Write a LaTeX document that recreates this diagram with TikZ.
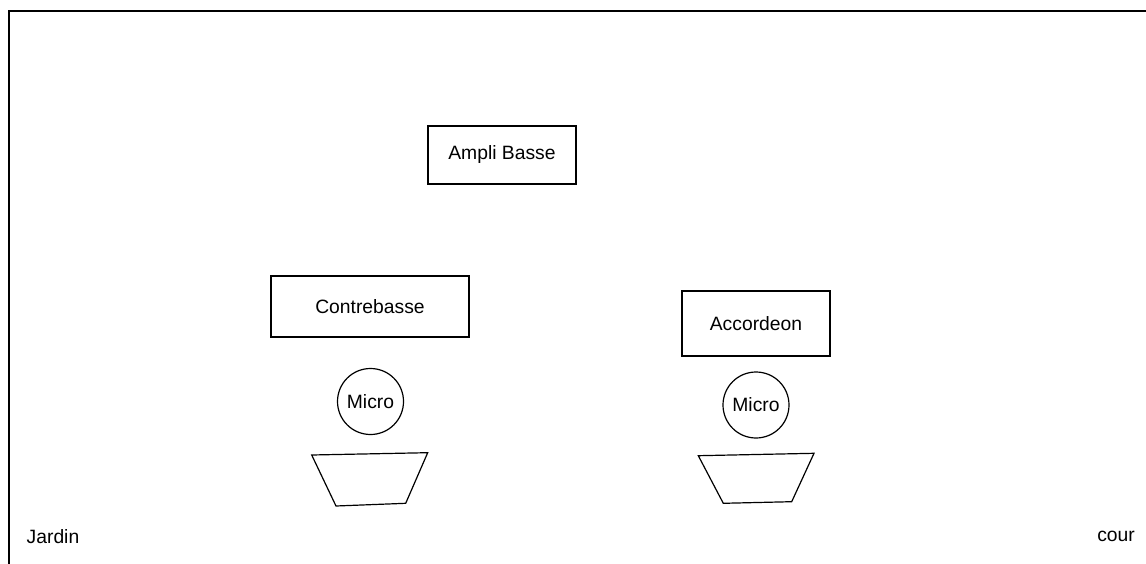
\documentclass[tikz,border=0pt]{standalone}
\usepackage{fontspec}
\setmainfont{Liberation Sans}
\usepackage{tikz}
\usetikzlibrary{positioning}

\begin{document}
\begin{tikzpicture}[x=1pt,y=-1pt]
\tikzstyle{every node}+=[inner sep=0pt,font=\fontsize{19.3}{21}\selectfont]
\tikzstyle{instr}=[draw=black,line width=1.2pt,rectangle]
\tikzstyle{micro}=[draw=black,line width=1.2pt,circle,minimum size=66pt]
\useasboundingbox (0,0) rectangle (1146,564);
% scene frame
\draw [black,line width=1.6pt] (9,564) -- (9,11) -- (1146,11);
% instruments
\node [instr,minimum width=148pt,minimum height=58pt] (ampli) at (502,155) {Ampli Basse};
\node [instr,minimum width=198pt,minimum height=61pt] (contrebasse) at (370,306.5) {Contrebasse};
\node [instr,minimum width=148pt,minimum height=65pt] (accordeon) at (756,323.5) {Accordeon};
% micros
\node [micro] (microA) at (370.5,401.5) {Micro};
\node [micro] (microB) at (756,405) {Micro};
% retours
\draw [black,line width=1.2pt] (311.7,455) -- (427.7,452.7) -- (405.7,503.3) -- (336,506) -- cycle;
\draw [black,line width=1.2pt] (698.3,455.7) -- (814,453.3) -- (791.7,501.7) -- (723.3,503.3) -- cycle;
% cotes
\node [anchor=west] (jardin) at (26.5,536.5) {Jardin};
\node [anchor=east] (cour) at (1135,536.5) {cour};
\end{tikzpicture}
\end{document}
